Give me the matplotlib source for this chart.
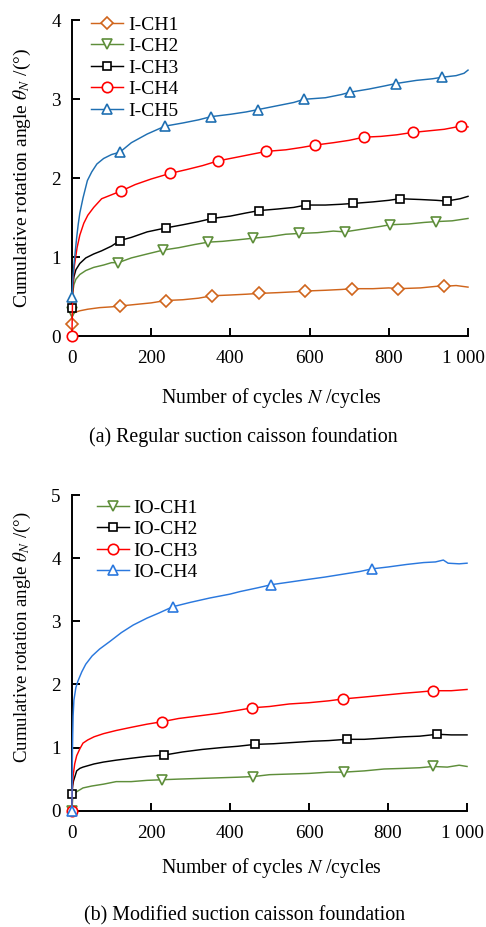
import matplotlib
matplotlib.use("Agg")
import matplotlib.pyplot as plt
import matplotlib.transforms as mtransforms

plt.rcParams['font.family'] = ['Liberation Serif', 'DejaVu Serif']
plt.rcParams['mathtext.fontset'] = 'stix'

# (a) regular suction caisson: cycles, rotation angle, cycles carrying a marker
ch1_n = [0, 1, 3, 8, 20, 40, 70, 100, 121, 160, 200, 237, 280, 320, 353, 400, 440, 472,
         520, 560, 588, 640, 680, 707, 760, 800, 823, 880, 920, 939, 970, 1000]
ch1_v = [0.15, 0.25, 0.28, 0.30, 0.32, 0.34, 0.36, 0.37, 0.38, 0.40, 0.42, 0.45, 0.46, 0.48,
         0.51, 0.52, 0.53, 0.54, 0.55, 0.56, 0.57, 0.58, 0.59, 0.60, 0.60, 0.61, 0.60, 0.61,
         0.63, 0.63, 0.64, 0.62]
ch1_m = [0, 121, 237, 353, 472, 588, 707, 823, 939]

ch2_n = [0, 2, 5, 10, 20, 35, 55, 80, 100, 117, 150, 190, 231, 270, 310, 344, 380, 420, 458,
         500, 540, 574, 620, 660, 689, 740, 780, 803, 850, 890, 919, 960, 1000]
ch2_v = [0.30, 0.55, 0.65, 0.72, 0.78, 0.83, 0.87, 0.90, 0.93, 0.93, 0.99, 1.04, 1.09, 1.12,
         1.16, 1.19, 1.20, 1.22, 1.24, 1.26, 1.29, 1.30, 1.31, 1.33, 1.32, 1.36, 1.39, 1.41,
         1.42, 1.44, 1.45, 1.46, 1.49]
ch2_m = [0, 117, 231, 344, 458, 574, 689, 803, 919]

ch3_n = [0, 2, 5, 10, 20, 35, 55, 75, 100, 121, 150, 190, 237, 280, 320, 354, 400, 440, 473,
         520, 560, 591, 640, 680, 709, 760, 800, 828, 880, 920, 946, 980, 1000]
ch3_v = [0.36, 0.62, 0.75, 0.84, 0.92, 0.99, 1.04, 1.08, 1.14, 1.21, 1.25, 1.32, 1.37, 1.41,
         1.45, 1.49, 1.52, 1.56, 1.59, 1.61, 1.63, 1.66, 1.66, 1.67, 1.68, 1.70, 1.72, 1.74,
         1.73, 1.72, 1.71, 1.74, 1.77]
ch3_m = [0, 121, 237, 354, 473, 591, 709, 828, 946]

ch4_n = [0, 2, 5, 8, 13, 20, 30, 40, 55, 75, 100, 125, 160, 200, 247, 290, 330, 369, 420,
         460, 491, 540, 580, 614, 660, 700, 737, 780, 820, 860, 900, 940, 982, 1000]
ch4_v = [0.0, 0.60, 0.85, 0.95, 1.12, 1.28, 1.43, 1.53, 1.63, 1.74, 1.79, 1.84, 1.92, 1.99,
         2.06, 2.11, 2.16, 2.22, 2.27, 2.31, 2.34, 2.36, 2.39, 2.42, 2.45, 2.48, 2.52, 2.53,
         2.55, 2.58, 2.60, 2.62, 2.66, 2.65]
ch4_m = [0, 125, 247, 369, 491, 614, 737, 860, 982]

ch5_n = [0, 2, 5, 8, 12, 16, 20, 28, 39, 50, 63, 80, 100, 121, 150, 190, 235, 280, 320, 351,
         400, 440, 470, 520, 560, 586, 640, 680, 702, 750, 790, 818, 870, 910, 935, 970, 990,
         1000]
ch5_v = [0.50, 0.70, 0.90, 1.05, 1.25, 1.42, 1.56, 1.75, 1.97, 2.08, 2.18, 2.25, 2.30, 2.33,
         2.45, 2.56, 2.66, 2.70, 2.74, 2.78, 2.81, 2.84, 2.87, 2.92, 2.96, 3.00, 3.02, 3.06,
         3.09, 3.13, 3.17, 3.20, 3.24, 3.26, 3.28, 3.30, 3.33, 3.37]
ch5_m = [0, 121, 235, 351, 470, 586, 702, 818, 935]

# (b) modified suction caisson
io1_n = [0, 2, 5, 12, 28, 50, 80, 112, 150, 190, 229, 270, 320, 370, 420, 459, 500, 550, 600,
         650, 688, 740, 790, 840, 880, 914, 950, 980, 1000]
io1_v = [0.0, 0.20, 0.25, 0.30, 0.36, 0.39, 0.42, 0.46, 0.46, 0.48, 0.49, 0.50, 0.51, 0.52,
         0.53, 0.54, 0.57, 0.58, 0.59, 0.61, 0.61, 0.63, 0.66, 0.67, 0.68, 0.70, 0.69, 0.72,
         0.70]
io1_m = [0, 229, 459, 688, 914]

io2_n = [0, 2, 4, 7, 12, 20, 28, 56, 80, 112, 150, 190, 233, 280, 330, 380, 420, 463, 510,
         560, 610, 650, 695, 740, 790, 840, 880, 925, 960, 1000]
io2_v = [0.27, 0.40, 0.47, 0.53, 0.63, 0.67, 0.69, 0.74, 0.77, 0.80, 0.83, 0.86, 0.88, 0.93,
         0.97, 1.00, 1.02, 1.05, 1.06, 1.08, 1.10, 1.11, 1.13, 1.13, 1.15, 1.17, 1.18, 1.21,
         1.20, 1.20]
io2_m = [0, 233, 463, 695, 925]

io3_n = [0, 1, 3, 7, 12, 20, 28, 40, 56, 80, 112, 150, 190, 229, 270, 320, 370, 420, 457,
         500, 550, 600, 650, 687, 740, 790, 840, 880, 915, 960, 1000]
io3_v = [0.0, 0.35, 0.55, 0.74, 0.87, 0.98, 1.07, 1.12, 1.17, 1.22, 1.27, 1.32, 1.37, 1.41,
         1.46, 1.50, 1.54, 1.59, 1.63, 1.65, 1.69, 1.71, 1.74, 1.77, 1.80, 1.83, 1.86, 1.88,
         1.90, 1.90, 1.92]
io3_m = [0, 229, 457, 687, 915]

io4_n = [0, 1, 2, 3, 5, 10, 15, 25, 35, 51, 70, 96, 125, 155, 190, 220, 255, 300, 350, 400,
         425, 470, 505, 550, 594, 640, 690, 730, 759, 800, 847, 890, 920, 940, 952, 980, 1000]
io4_v = [0.0, 0.80, 1.20, 1.50, 1.75, 1.95, 2.05, 2.20, 2.32, 2.45, 2.56, 2.68, 2.82, 2.94,
         3.05, 3.13, 3.23, 3.30, 3.37, 3.43, 3.47, 3.53, 3.58, 3.62, 3.66, 3.70, 3.75, 3.79,
         3.83, 3.86, 3.90, 3.93, 3.94, 3.97, 3.92, 3.91, 3.92]
io4_m = [0, 255, 505, 759]

top_series = [
    ("I-CH1", ch1_n, ch1_v, ch1_m, '#D0651C', 'D', 6.5),
    ("I-CH2", ch2_n, ch2_v, ch2_m, '#5E8E3A', 'v', 7.5),
    ("I-CH3", ch3_n, ch3_v, ch3_m, 'black', 's', 6),
    ("I-CH4", ch4_n, ch4_v, ch4_m, '#FF0000', 'o', 7.5),
    ("I-CH5", ch5_n, ch5_v, ch5_m, '#1F6FB2', '^', 7.5),
]
bottom_series = [
    ("IO-CH1", io1_n, io1_v, io1_m, '#5E8E3A', 'v', 7.5),
    ("IO-CH2", io2_n, io2_v, io2_m, 'black', 's', 6),
    ("IO-CH3", io3_n, io3_v, io3_m, '#FF0000', 'o', 7.5),
    ("IO-CH4", io4_n, io4_v, io4_m, '#2A78DE', '^', 7.5),
]

fig = plt.figure(figsize=(4.86, 9.27), dpi=100)
ax1 = fig.add_axes([0.148, 0.6375, 0.815, 0.3405])
ax2 = fig.add_axes([0.148, 0.1255, 0.813, 0.3405])


def draw(ax, series, ymax, legend_anchor, xlab_y, ylab_y, ylab_size):
    for label, n, v, marks, color, mk, ms in series:
        idx = [n.index(m) for m in marks]
        ax.plot(n, v, color=color, lw=1.05, marker=mk, ms=ms, mfc='white',
                mec=color, mew=1.2, markevery=idx, label=label, clip_on=False, zorder=3)
    ax.set_xlim(0, 1000)
    ax.set_ylim(0, ymax)
    ax.set_xticks([0, 200, 400, 600, 800, 1000])
    ax.set_xticklabels(['0', '200', '400', '600', '800', '1 000'])
    ax.set_yticks(range(ymax + 1))
    for s in ['top', 'right']:
        ax.spines[s].set_visible(False)
    for s in ['left', 'bottom']:
        ax.spines[s].set_linewidth(1.4)
    ax.tick_params(direction='in', length=6, width=1.4, labelsize=13.8)
    ax.tick_params(axis='x', pad=10)
    ax.tick_params(axis='y', pad=8)
    # the last label sits a little left of its tick
    last = ax.get_xticklabels()[-1]
    last.set_transform(last.get_transform() +
                       mtransforms.ScaledTranslation(-4.5 / 100, 0, fig.dpi_scale_trans))

    ax.set_xlabel('Number of cycles $\\mathit{N}$ /cycles', fontsize=14.3)
    ax.xaxis.set_label_coords(0.505, xlab_y)
    ax.xaxis.label.set_verticalalignment('center')
    ax.set_ylabel('Cumulative rotation angle $\\mathit{\\theta}_{\\mathit{N}}$ /(°)',
                  fontsize=ylab_size)
    ax.yaxis.set_label_coords(-0.124, ylab_y)
    ax.yaxis.label.set_verticalalignment('center')
    ax.legend(loc='upper left', bbox_to_anchor=legend_anchor, frameon=False, fontsize=14,
              handlelength=1.65, handletextpad=0.25, labelspacing=0.2, borderpad=0,
              borderaxespad=0)


draw(ax1, top_series, 4, (0.048, 1.014), -0.196, 0.5, 14.0)
draw(ax2, bottom_series, 5, (0.063, 0.987), -0.181, 0.549, 13.6)

fig.text(0.5, 1 - 437 / 927, '(a) Regular suction caisson foundation', ha='center',
         va='center', fontsize=14.4)
fig.text(0.503, 1 - 916 / 927, '(b) Modified suction caisson foundation', ha='center',
         va='center', fontsize=14.4)

fig.savefig('out.png', dpi=100)
